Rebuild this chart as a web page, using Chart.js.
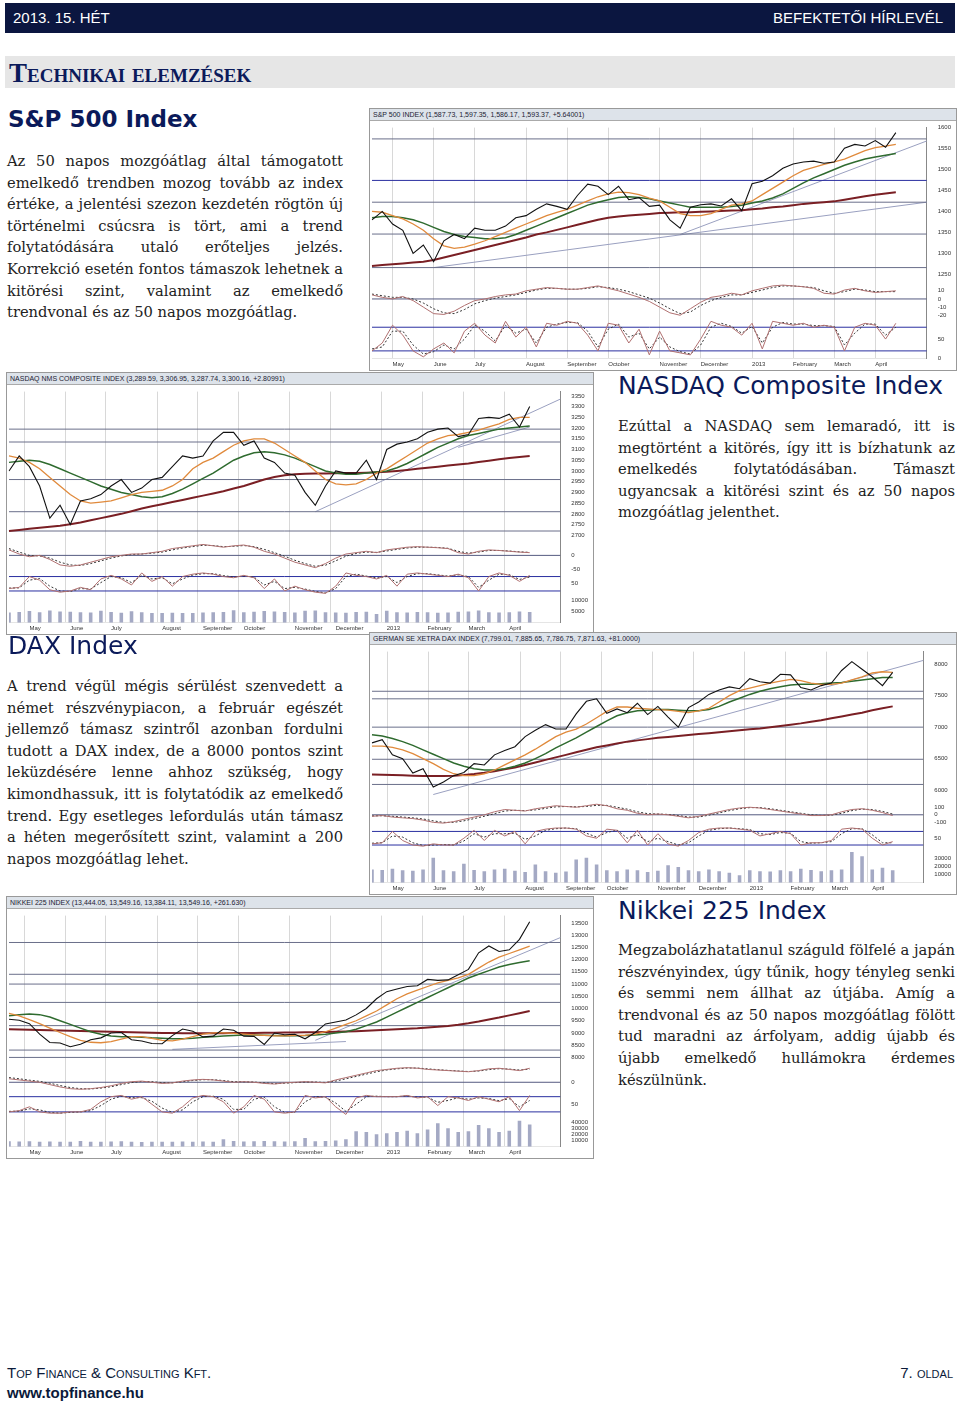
<!DOCTYPE html>
<html>
<head>
<meta charset="utf-8">
<script src="https://cdn.jsdelivr.net/npm/chart.js@4"></script>
<style>
  body { margin: 0; width: 960px; height: 1405px; background: #fff; position: relative; font-family: "DejaVu Serif", serif; }
  .hdr { position: absolute; left: 5px; top: 3px; width: 950px; height: 30px; background: #0b1640; color: #fff; font-family: "Liberation Sans", sans-serif; font-size: 15px; }
  .hdr span { position: absolute; top: 6px; }
  .band { position: absolute; left: 5px; top: 56px; width: 950px; height: 32px; background: #e6e6e6; }
  .band div { position: absolute; left: 4px; top: 2px; font-family: "Liberation Serif", serif; font-weight: bold; color: #0b1a5a; font-size: 27px; font-variant: small-caps; }
  .ttl { position: absolute; font-family: "DejaVu Sans", sans-serif; font-weight: bold; color: #0b1a5a; font-size: 23px; }
  .txt { position: absolute; font-size: 14.7px; line-height: 21.6px; text-align: justify; color: #222; hyphens: manual; }
  .box { position: absolute; width: 586px; height: 261px; border: 1px solid #999; background: #fff; }
  .box .bar { height: 11px; background: #dde3ea; border-bottom: 1px solid #aaa; font-family: "Liberation Sans", sans-serif; font-size: 7px; color: #223; line-height: 11px; padding-left: 3px; white-space: nowrap; }
  .box canvas { display: block; }
  .foot { position: absolute; font-family: "Liberation Sans", sans-serif; color: #0b1a3a; }
</style>
</head>
<body>
<div class="hdr"><span style="left:8px">2013. 15. HÉT</span><span style="right:12px">BEFEKTETŐI HÍRLEVÉL</span></div>
<div class="band"><div>Technikai elemzések</div></div>

<div class="ttl" style="left:8px;top:106px">S&amp;P 500 Index</div>
<div class="txt" style="left:7px;top:150px;width:336px">Az 50 napos mozgóátlag által támogatott emelkedő trendben mozog tovább az index értéke, a jelentési szezon kezdetén rögtön új történelmi csúcsra is tört, ami a trend folytatódására utaló erőteljes jelzés. Korrekció esetén fontos támaszok lehet&shy;nek a kitörési szint, valamint az emelkedő trendvonal és az 50 napos mozgóátlag.</div>
<div class="box" style="left:369px;top:108px"><div class="bar">S&amp;P 500 INDEX (1,587.73, 1,597.35, 1,586.17, 1,593.37, +5.64001)</div><canvas id="c1" width="586" height="249"></canvas></div>

<div class="box" style="left:6px;top:372px"><div class="bar">NASDAQ NMS COMPOSITE INDEX (3,289.59, 3,306.95, 3,287.74, 3,300.16, +2.80991)</div><canvas id="c2" width="586" height="249"></canvas></div>
<div class="ttl" style="left:618px;top:371px;font-weight:normal;font-size:25px">NASDAQ Composite Index</div>
<div class="txt" style="left:618px;top:415px;width:337px">Ezúttal a NASDAQ sem lemaradó, itt is megtörtént a kitörés, így itt is bízhatunk az emelkedés folytatódásában. Támaszt ugyancsak a kitörési szint és az 50 napos mozgóátlag jelenthet.</div>

<div class="ttl" style="left:8px;top:631px;font-weight:normal;font-size:25px">DAX Index</div>
<div class="txt" style="left:7px;top:675px;width:336px">A trend végül mégis sérülést szenvedett a német részvénypiacon, a február egészét jellemző támasz szintről azonban fordulni tudott a DAX index, de a 8000 pontos szint leküzdésére lenne ahhoz szükség, hogy kimondhassuk, itt is folytatódik az emelkedő trend. Egy esetleges lefordulás után támasz a héten megerősített szint, valamint a 200 napos mozgóátlag lehet.</div>
<div class="box" style="left:369px;top:632px"><div class="bar">GERMAN SE XETRA DAX INDEX (7,799.01, 7,885.65, 7,786.75, 7,871.63, +81.0000)</div><canvas id="c3" width="586" height="249"></canvas></div>

<div class="box" style="left:6px;top:896px"><div class="bar">NIKKEI 225 INDEX (13,444.05, 13,549.16, 13,384.11, 13,549.16, +261.630)</div><canvas id="c4" width="586" height="249"></canvas></div>
<div class="ttl" style="left:618px;top:896px;font-weight:normal;font-size:25px">Nikkei 225 Index</div>
<div class="txt" style="left:618px;top:939px;width:337px">Megzabolázhatatlanul száguld fölfelé a japán részvényindex, úgy tűnik, hogy tényleg senki és semmi nem állhat az útjába. Amíg a trendvonal és az 50 napos mozgóátlag fölött tud maradni az árfolyam, addig újabb és újabb emelkedő hullámokra érdemes készülnünk.</div>

<div class="foot" style="left:7px;top:1364px;font-size:15px;font-variant:small-caps">Top Finance &amp; Consulting Kft.</div>
<div class="foot" style="left:7px;top:1384px;font-size:15px;font-weight:bold">www.topfinance.hu</div>
<div class="foot" style="right:7px;top:1364px;font-size:15px;font-variant:small-caps">7. oldal</div>

<script>
// weekly points, Apr 2012 - Apr 2013, plus blank space on the right
const xLabels = ['', '', 'May', '', '', '', 'June', '', '', '', 'July', '', '', '', '', 'August', '', '', '', 'September', '', '', '', 'October', '', '', '', '', 'November', '', '', '', 'December', '', '', '', '', '2013', '', '', '', 'February', '', '', '', 'March', '', '', '', 'April', '', '', '', '', ''];

// S&P 500
const spxClose = [1380,1400,1370,1355,1300,1320,1280,1330,1345,1335,1360,1355,1355,1365,1385,1390,1405,1418,1412,1405,1438,1465,1460,1440,1460,1428,1433,1412,1415,1380,1360,1410,1416,1418,1413,1430,1402,1466,1472,1485,1503,1513,1518,1520,1515,1518,1551,1560,1556,1569,1553,1588];
const spxMa20 = [1400,1398,1390,1382,1370,1355,1335,1318,1312,1315,1322,1330,1340,1350,1360,1370,1380,1390,1398,1405,1415,1425,1435,1442,1446,1445,1440,1432,1425,1410,1395,1390,1390,1395,1405,1415,1418,1425,1440,1455,1470,1485,1498,1505,1512,1518,1525,1535,1545,1552,1556,1560];
const spxMa50 = [1385,1388,1388,1385,1380,1372,1362,1352,1345,1340,1338,1335,1335,1337,1345,1355,1365,1375,1385,1395,1405,1415,1422,1428,1433,1435,1433,1430,1425,1420,1415,1410,1410,1410,1410,1412,1415,1420,1425,1432,1442,1455,1468,1480,1490,1500,1510,1518,1525,1530,1534,1538];
const spxMa200 = [1270,1272,1274,1276,1278,1280,1284,1290,1296,1302,1308,1314,1320,1326,1332,1338,1345,1350,1356,1362,1368,1374,1380,1385,1388,1390,1392,1394,1396,1397,1398,1398,1399,1400,1401,1402,1403,1405,1407,1410,1412,1415,1418,1420,1422,1424,1428,1432,1436,1440,1443,1446];
const spxLevels = [1573, 1474, 1422, 1346, 1266];
const spxTrends = [[6, 1266, 54, 1422], [30, 1345, 54, 1568]];
const spxMacd = [5,2,0,3,-2,-10,-18,-19,-15,-8,-2,0,3,5,6,10,12,14,13,12,12,14,16,13,10,6,2,-3,-10,-17,-20,-12,-4,2,4,7,5,10,13,16,17,16,15,13,7,6,11,13,10,8,9,10];
const spxSignal = [6,4,2,2,0,-5,-12,-17,-18,-13,-6,-2,1,3,5,8,11,13,13,12,12,13,15,14,12,9,5,1,-5,-12,-18,-16,-8,-2,2,5,5,8,11,14,16,16,15,14,10,7,9,12,11,9,9,9];
const spxStoch = [20,40,85,60,20,5,25,40,15,70,90,60,40,95,55,80,30,90,85,95,90,60,20,90,85,40,75,10,70,20,15,10,50,95,85,80,60,90,25,95,90,85,90,80,85,80,20,80,90,85,50,90];
const spxStochSig = [25,30,70,70,35,12,18,35,25,50,85,70,45,85,65,75,40,80,88,92,92,70,30,75,88,55,65,25,55,30,18,12,35,80,90,82,65,82,40,80,92,88,88,84,84,82,35,65,88,88,60,80];

// NASDAQ
const ndxClose = [3000,3070,3020,2930,2780,2840,2750,2860,2870,2890,2930,2960,2900,2920,2960,2970,3020,3070,3060,3070,3140,3180,3180,3120,3140,3060,3040,2990,2980,2900,2840,2930,3000,2990,2990,3050,2960,3100,3125,3135,3150,3180,3195,3200,3160,3170,3245,3250,3245,3265,3205,3300];
const ndxMa20 = [3070,3060,3040,3010,2970,2930,2890,2860,2850,2855,2860,2875,2890,2900,2905,2910,2930,2960,3010,3040,3060,3090,3120,3140,3150,3150,3130,3100,3070,3040,3000,2960,2940,2935,2940,2960,2990,3010,3040,3070,3100,3130,3150,3165,3170,3180,3190,3205,3220,3240,3250,3250];
const ndxMa50 = [3040,3045,3050,3045,3030,3010,2990,2970,2950,2930,2915,2900,2890,2880,2875,2880,2895,2915,2940,2965,2990,3020,3050,3070,3085,3090,3085,3075,3060,3040,3020,3000,2990,2985,2985,2990,2995,3000,3015,3035,3060,3085,3110,3130,3150,3165,3175,3185,3195,3200,3205,3210];
const ndxMa200 = [2720,2725,2730,2735,2740,2745,2752,2760,2770,2780,2790,2800,2812,2825,2835,2845,2855,2865,2875,2885,2895,2905,2918,2930,2945,2960,2972,2980,2985,2987,2988,2988,2989,2990,2990,2992,2994,2996,3000,3005,3010,3015,3020,3025,3030,3035,3042,3048,3055,3060,3065,3070];
const ndxLevels = [3195, 3135, 2960, 2810, 2720];
const ndxTrends = [[30, 2810, 54, 3335], [44, 3110, 51, 3205]];
const ndxMacd = [20,5,-5,0,-15,-35,-40,-35,-25,-15,-5,0,5,5,10,15,25,30,35,40,35,30,35,38,30,15,5,-10,-25,-35,-45,-30,-10,5,10,15,10,20,25,30,32,30,28,25,10,5,15,20,18,15,12,10];
const ndxSignal = [25,12,0,-2,-10,-25,-35,-37,-30,-20,-10,-2,3,5,8,12,20,27,32,37,36,32,33,36,32,22,10,-3,-18,-30,-40,-36,-20,-3,7,12,11,16,22,27,30,30,29,26,15,8,12,18,18,16,13,11];
const ndxStoch = [30,35,80,65,25,15,20,35,25,70,85,70,45,95,60,80,40,80,90,95,90,80,75,85,75,30,70,20,40,25,15,10,40,95,85,80,70,85,40,90,95,90,85,80,90,75,20,80,95,85,60,85];
const ndxStochSig = [32,33,65,72,40,20,18,30,28,55,80,75,55,85,70,75,50,70,86,92,92,84,78,82,78,45,60,30,35,28,18,12,30,80,90,82,74,80,55,80,92,92,87,82,87,80,35,65,90,88,68,78];
const ndxVol = [4600,4800,5200,4700,5500,5000,4900,4700,4600,5300,4800,4500,5100,4700,4400,4300,4500,4400,4300,4600,4700,4800,5600,4700,4900,5200,5000,4800,4600,5300,5500,4700,4600,4500,4800,4900,3900,5400,4700,4600,4800,4700,4500,4600,4900,5000,5500,4700,4600,4700,5000,4800];

// DAX
const daxClose = [6750,6800,6560,6500,6270,6340,6050,6130,6230,6280,6420,6400,6560,6630,6690,6850,6950,7040,6970,6970,7210,7410,7450,7220,7290,7230,7380,7200,7330,7160,7000,7310,7400,7520,7590,7640,7610,7770,7720,7700,7840,7830,7630,7590,7660,7700,7900,8040,7920,7800,7660,7870];
const daxMa20 = [6700,6700,6680,6640,6580,6500,6420,6330,6260,6230,6230,6260,6320,6400,6480,6560,6650,6750,6850,6920,6970,7050,7150,7250,7320,7320,7300,7290,7280,7270,7250,7230,7260,7300,7400,7500,7580,7620,7660,7700,7730,7760,7740,7700,7680,7680,7700,7750,7800,7860,7880,7870];
const daxMa50 = [6880,6860,6820,6770,6710,6640,6570,6500,6430,6380,6340,6320,6320,6340,6380,6430,6500,6580,6670,6750,6830,6920,7010,7100,7180,7230,7260,7270,7280,7280,7270,7260,7260,7280,7330,7400,7460,7520,7570,7610,7640,7670,7680,7680,7690,7700,7710,7730,7750,7770,7790,7790];
const daxMa200 = [6250,6245,6240,6235,6230,6225,6225,6225,6230,6240,6255,6275,6300,6330,6360,6400,6440,6480,6520,6560,6600,6640,6680,6710,6740,6770,6790,6810,6830,6845,6860,6875,6890,6905,6920,6935,6950,6965,6980,7000,7020,7040,7060,7085,7110,7140,7170,7200,7230,7270,7300,7330];
const daxLevels = [7570, 7450, 7000, 6490, 6090];
const daxTrends = [[6, 5930, 54, 8060]];
const daxMacd = [-20,-10,-30,-40,-50,-70,-100,-110,-90,-60,-30,0,40,70,60,50,80,100,120,110,100,120,140,120,80,60,20,0,10,0,-20,-40,-20,10,40,70,90,100,90,70,50,30,10,-10,-10,0,40,70,80,60,30,-10];
const daxSignal = [-15,-12,-20,-30,-40,-55,-80,-100,-100,-80,-50,-20,15,50,60,55,65,85,105,110,105,110,125,125,100,75,40,15,10,5,-10,-30,-30,-5,25,55,80,95,95,80,60,40,20,0,-8,-5,20,55,75,70,45,10];
const daxStoch = [25,30,80,40,20,15,25,20,20,50,85,40,85,60,80,25,80,90,95,95,90,60,50,90,85,30,85,20,70,25,15,40,75,90,95,95,90,85,60,70,80,70,20,30,30,40,90,95,90,50,20,35];
const daxStochSig = [28,30,60,55,30,18,20,22,20,38,70,55,70,70,72,45,60,85,92,95,92,72,55,75,86,50,65,35,50,35,20,30,60,85,92,95,92,88,70,66,75,72,35,28,30,35,70,92,92,65,30,30];
const daxVol = [16000,15500,17000,15000,14500,16000,30000,15000,14000,23000,15500,14000,16000,17000,14500,13000,22000,14000,12000,13500,28000,30000,22000,15000,14000,16000,15000,13000,14500,21000,19000,15000,14000,16000,14000,12000,9000,15000,14000,13500,15000,14000,17000,15500,14000,15000,16000,37000,32000,16000,18000,15000];

// Nikkei 225
const nkyClose = [9560,9520,9380,8950,8610,8590,8440,8540,8720,8800,9000,9020,8720,8670,8570,8560,8890,9160,9070,8840,8870,9160,9110,8870,8860,8530,9000,8930,8950,8760,9020,9370,9450,9530,9740,10000,10400,10690,10800,10900,10930,11190,11150,11170,11380,11600,12280,12560,12330,12400,12830,13550];
const nkyMa20 = [9800,9700,9550,9380,9200,9020,8850,8700,8620,8600,8650,8750,8850,8850,8780,8700,8680,8750,8850,8950,9000,9000,8980,8950,8920,8900,8880,8880,8900,8900,8950,9050,9200,9350,9500,9700,9900,10150,10400,10600,10750,10900,11050,11150,11250,11400,11650,11900,12100,12250,12400,12550];
const nkyMa50 = [9700,9750,9780,9750,9650,9500,9350,9200,9050,8950,8880,8850,8850,8830,8800,8780,8760,8760,8780,8820,8850,8880,8900,8920,8920,8910,8900,8890,8890,8900,8920,8950,9000,9050,9150,9300,9450,9650,9850,10050,10250,10450,10650,10850,11050,11250,11400,11550,11700,11800,11880,11950];
const nkyMa200 = [9150,9140,9130,9120,9110,9100,9090,9080,9070,9060,9050,9040,9030,9020,9010,9000,8995,8990,8990,8990,8990,8990,8995,9000,9000,9005,9010,9015,9020,9025,9030,9040,9050,9060,9075,9090,9110,9130,9150,9170,9190,9220,9250,9290,9340,9400,9470,9550,9630,9720,9810,9900];
const nkyLevels = [12700, 11400, 11000, 10250, 9300, 8300, 8000];
const nkyTrends = [[16, 8330, 33, 8650], [30, 8700, 54, 12900]];
const nkyMacd = [30,20,10,0,-20,-40,-55,-60,-55,-45,-30,-10,5,10,0,-10,-5,10,20,25,20,10,0,5,0,-10,-15,-5,0,5,0,-5,20,40,60,80,100,110,120,125,120,110,105,100,95,90,100,115,120,110,100,120];
const nkySignal = [40,30,18,8,-8,-28,-45,-55,-57,-50,-38,-20,-3,7,5,-3,-5,5,15,22,22,15,5,4,2,-5,-12,-8,-3,2,2,-2,10,30,50,70,90,105,115,122,122,115,108,102,97,92,96,108,116,113,105,112];
const nkyStoch = [20,25,40,20,15,15,20,20,30,60,80,85,70,80,50,20,15,40,75,85,80,60,15,40,85,70,20,15,20,85,75,80,40,10,75,85,80,80,80,85,75,80,45,80,75,65,80,70,60,80,25,85];
const nkyStochSig = [22,23,32,28,18,15,18,20,25,45,70,82,76,76,62,35,18,28,60,80,82,70,30,30,70,78,40,18,18,60,80,78,55,22,50,80,82,80,80,83,78,78,58,65,76,70,75,73,64,72,40,65];
const nkyVol = [9000,8500,9000,8000,8500,8000,8200,9500,8000,8300,8500,9000,8000,7800,8200,8000,8300,8500,8000,8600,8000,12000,9500,8500,9000,9200,8800,8500,9000,14000,9000,9500,10000,12000,25000,24000,20000,22000,24000,26000,22000,28000,38000,30000,24000,25000,35000,30000,24000,26000,42000,36000];

const C_PRICE = '#111', C_MA20 = '#e08a3c', C_MA50 = '#2f6b2f', C_MA200 = '#7a1f24';
const N = xLabels.length;
const tickFont = { size: 6, family: 'Liberation Sans' };

// a straight segment between two category indices
function seg(a, b, yA, yB, color, axis) {
  const data = new Array(N).fill(null);
  data[a] = yA;
  data[b] = yB;
  return { data, borderColor: color, borderWidth: 1, spanGaps: true, yAxisID: axis, order: 5 };
}

function fixedTicks(list) {
  return a => { a.ticks = list.map(v => ({ value: v })); };
}

function makeChart(id, d) {
  const ds = [
    { data: d.close, borderColor: C_PRICE, borderWidth: 1.1, yAxisID: 'y', order: 1 },
    { data: d.ma20, borderColor: C_MA20, borderWidth: 1.3, yAxisID: 'y', order: 2 },
    { data: d.ma50, borderColor: C_MA50, borderWidth: 1.5, yAxisID: 'y', order: 2 },
    { data: d.ma200, borderColor: C_MA200, borderWidth: 2, yAxisID: 'y', order: 2 },
    { data: d.macd, borderColor: '#b07070', borderWidth: 1, yAxisID: 'm' },
    { data: d.signal, borderColor: '#333', borderWidth: 1, borderDash: [2, 2], yAxisID: 'm' },
    { data: d.stoch, borderColor: '#b07070', borderWidth: 1, yAxisID: 's' },
    { data: d.stochSig, borderColor: '#333', borderWidth: 1, borderDash: [2, 2], yAxisID: 's' },
  ];
  d.levels.forEach((v, i) => ds.push(seg(0, N - 1, v, v, d.blueLevel === i ? '#2a2fa0' : '#6a6f8a', 'y')));
  d.trends.forEach(t => ds.push(seg(t[0], t[2], t[1], t[3], '#9aa0c0', 'y')));
  ds.push(seg(0, N - 1, d.mZero, d.mZero, '#555a80', 'm'));
  d.sLevels.forEach(v => ds.push(seg(0, N - 1, v, v, '#2a2fa0', 's')));

  const yTicks = [];
  for (let v = Math.ceil(d.yMin / d.step) * d.step; v <= d.yMax; v += d.step) yTicks.push(v);

  const yTickOpts = { font: tickFont, color: '#333', callback: v => v, autoSkip: false };
  const scales = {
    x: { type: 'category', offset: false,
      grid: { color: ctx => (ctx.tick && ctx.tick.label ? '#d8d8d8' : 'transparent'), drawTicks: false },
      ticks: { autoSkip: false, maxRotation: 0, font: tickFont, color: '#333', align: 'start', padding: 2 } },
    y: { position: 'right', stack: 'p', stackWeight: d.weights[0], min: d.yMin, max: d.yMax, afterBuildTicks: fixedTicks(yTicks),
      ticks: yTickOpts, grid: { display: false }, border: { color: '#888' } },
    m: { position: 'right', stack: 'p', stackWeight: d.weights[1], min: d.mMin, max: d.mMax, afterBuildTicks: fixedTicks(d.mTicks),
      ticks: yTickOpts, grid: { display: false }, border: { color: '#888' } },
    s: { position: 'right', stack: 'p', stackWeight: d.weights[2], min: 0, max: 100, afterBuildTicks: fixedTicks(d.sTicks),
      ticks: yTickOpts, grid: { display: false }, border: { color: '#888' } },
  };
  if (d.vol) {
    ds.push({ type: 'bar', data: d.vol, backgroundColor: '#a4a9c4', barPercentage: 0.35, categoryPercentage: 1, yAxisID: 'v', order: 6 });
    scales.v = { position: 'right', stack: 'p', stackWeight: d.weights[3], min: 0, max: d.vMax, afterBuildTicks: fixedTicks(d.vTicks),
      ticks: yTickOpts, grid: { display: false }, border: { color: '#888' } };
  }
  ds.forEach(s => { if (!s.type) s.type = 'line'; s.pointRadius = 0; });

  new Chart(id, {
    type: 'line',
    data: { labels: xLabels, datasets: ds },
    options: {
      responsive: false, animation: false,
      layout: { padding: { left: 0, right: 2, top: 4, bottom: 0 } },
      plugins: { legend: { display: false }, tooltip: { enabled: false } },
      scales
    }
  });
}

makeChart('c1', { close: spxClose, ma20: spxMa20, ma50: spxMa50, ma200: spxMa200, macd: spxMacd, signal: spxSignal, stoch: spxStoch, stochSig: spxStochSig,
  levels: spxLevels, blueLevel: 1, trends: spxTrends, yMin: 1230, yMax: 1600, step: 50, mMin: -25, mMax: 20, mTicks: [-20, -10, 0, 10], mZero: 0,
  sTicks: [0, 50], sLevels: [80, 20], weights: [5.5, 1.3, 1.4] });
makeChart('c2', { close: ndxClose, ma20: ndxMa20, ma50: ndxMa50, ma200: ndxMa200, macd: ndxMacd, signal: ndxSignal, stoch: ndxStoch, stochSig: ndxStochSig, vol: ndxVol,
  levels: ndxLevels, blueLevel: -1, trends: ndxTrends, yMin: 2670, yMax: 3370, step: 50, mMin: -60, mMax: 50, mTicks: [-50, 0], mZero: 0,
  sTicks: [50], sLevels: [80, 20], vMax: 12000, vTicks: [5000, 10000], weights: [5, 1, 0.8, 0.9] });
makeChart('c3', { close: daxClose, ma20: daxMa20, ma50: daxMa50, ma200: daxMa200, macd: daxMacd, signal: daxSignal, stoch: daxStoch, stochSig: daxStochSig, vol: daxVol,
  levels: daxLevels, blueLevel: -1, trends: daxTrends, yMin: 5800, yMax: 8200, step: 500, mMin: -160, mMax: 160, mTicks: [-100, 0, 100], mZero: 0,
  sTicks: [50], sLevels: [80, 20], vMax: 40000, vTicks: [10000, 20000, 30000], weights: [5, 0.8, 0.75, 1.1] });
makeChart('c4', { close: nkyClose, ma20: nkyMa20, ma50: nkyMa50, ma200: nkyMa200, macd: nkyMacd, signal: nkySignal, stoch: nkyStoch, stochSig: nkyStochSig, vol: nkyVol,
  levels: nkyLevels, blueLevel: -1, trends: nkyTrends, yMin: 7700, yMax: 13800, step: 500, mMin: -80, mMax: 150, mTicks: [0], mZero: 0,
  sTicks: [50], sLevels: [80, 20], vMax: 48000, vTicks: [10000, 20000, 30000, 40000], weights: [5, 0.9, 0.85, 1] });
</script>
</body>
</html>
